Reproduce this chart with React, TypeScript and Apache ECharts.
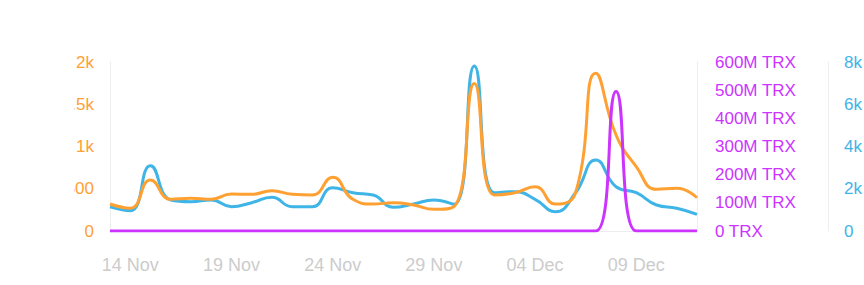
import React, { useEffect, useRef } from "react";
import * as echarts from "echarts";

const dates = [
  "13 Nov", "14 Nov", "15 Nov", "16 Nov", "17 Nov", "18 Nov", "19 Nov", "20 Nov", "21 Nov", "22 Nov",
  "23 Nov", "24 Nov", "25 Nov", "26 Nov", "27 Nov", "28 Nov", "29 Nov", "30 Nov", "01 Dec", "02 Dec",
  "03 Dec", "04 Dec", "05 Dec", "06 Dec", "07 Dec", "08 Dec", "09 Dec", "10 Dec", "11 Dec", "12 Dec",
];

// orange series, left axis (0 - 2k)
const orangeValues = [
  319, 269, 603, 375, 387, 375, 438, 434, 477, 434,
  426, 635, 375, 319, 335, 308, 257, 290, 1747, 426,
  453, 524, 319, 453, 1866, 1136, 761, 493, 505, 394,
];

// blue series, far right axis (0 - 8k)
const blueValues = [
  1150, 961, 3091, 1468, 1387, 1468, 1150, 1340, 1595, 1150,
  1150, 2050, 1813, 1704, 1122, 1278, 1468, 1264, 7811, 1813,
  1860, 1500, 914, 1813, 3361, 2097, 1813, 1231, 1075, 790,
];

// purple series, TRX axis (0 - 600M)
const purpleValues = [
  0, 0, 0, 0, 0, 0, 0, 0, 0, 0,
  0, 0, 0, 0, 0, 0, 0, 0, 0, 0,
  0, 0, 0, 0, 0, 495000000, 0, 0, 0, 0,
];

const ORANGE = "#ffa033";
const BLUE = "#3fb4e6";
const PURPLE = "#cc33ff";
const FONT = "'Liberation Sans', Arial, sans-serif";

function kFormat(v: number): string {
  if (v === 0) return "0";
  if (v >= 1000) return v / 1000 + "k";
  return String(v);
}

export default function App() {
  const ref = useRef<HTMLDivElement>(null);
  useEffect(() => {
    if (!ref.current) return;
    const chart = echarts.init(ref.current, undefined, { renderer: "svg" });
    chart.setOption({
      animation: false,
      grid: {
        left: 36,
        right: 167,
        top: 62,
        bottom: 54,
        containLabel: false,
        outerBoundsMode: "none",
      },
      xAxis: {
        type: "category",
        data: dates,
        boundaryGap: false,
        axisLine: { show: true, lineStyle: { color: "#eeeeee", width: 1 } },
        axisTick: { show: false },
        axisLabel: {
          color: "#cccccc",
          fontSize: 18,
          fontFamily: FONT,
          margin: 25,
          interval: (i: number) => (i - 1) % 5 === 0,
        },
        splitLine: { show: false },
      },
      yAxis: [
        {
          type: "value",
          position: "left",
          min: 0,
          max: 2000,
          interval: 500,
          axisLine: { show: true, lineStyle: { color: "#eeeeee" } },
          axisTick: { show: false },
          splitLine: { show: false },
          axisLabel: {
            color: ORANGE,
            fontSize: 17,
            fontFamily: FONT,
            margin: 16,
            formatter: kFormat,
          },
        },
        {
          type: "value",
          position: "right",
          min: 0,
          max: 600000000,
          interval: 100000000,
          axisLine: { show: true, lineStyle: { color: "#eeeeee" } },
          axisTick: { show: false },
          splitLine: { show: false },
          axisLabel: {
            color: PURPLE,
            fontSize: 17,
            fontFamily: FONT,
            margin: 18,
            formatter: (v: number) => (v === 0 ? "0 TRX" : v / 1000000 + "M TRX"),
          },
        },
        {
          type: "value",
          position: "right",
          offset: 131,
          min: 0,
          max: 8000,
          interval: 2000,
          axisLine: { show: true, lineStyle: { color: "#eeeeee" } },
          axisTick: { show: false },
          splitLine: { show: false },
          axisLabel: {
            color: BLUE,
            fontSize: 17,
            fontFamily: FONT,
            margin: 16,
            formatter: kFormat,
          },
        },
      ],
      series: [
        {
          type: "line",
          yAxisIndex: 2,
          data: blueValues,
          smooth: true,
          showSymbol: false,
          lineStyle: { color: BLUE, width: 3 },
          itemStyle: { color: BLUE },
          z: 2,
        },
        {
          type: "line",
          yAxisIndex: 0,
          data: orangeValues,
          smooth: true,
          showSymbol: false,
          lineStyle: { color: ORANGE, width: 3 },
          itemStyle: { color: ORANGE },
          z: 3,
        },
        {
          type: "line",
          yAxisIndex: 1,
          data: purpleValues,
          smooth: true,
          showSymbol: false,
          lineStyle: { color: PURPLE, width: 3 },
          itemStyle: { color: PURPLE },
          z: 4,
        },
      ],
    });
    return () => chart.dispose();
  }, []);
  return (
    <div
      ref={ref}
      style={{ position: "absolute", left: 74, top: 0, width: 790, height: 285, overflow: "hidden" }}
    />
  );
}
